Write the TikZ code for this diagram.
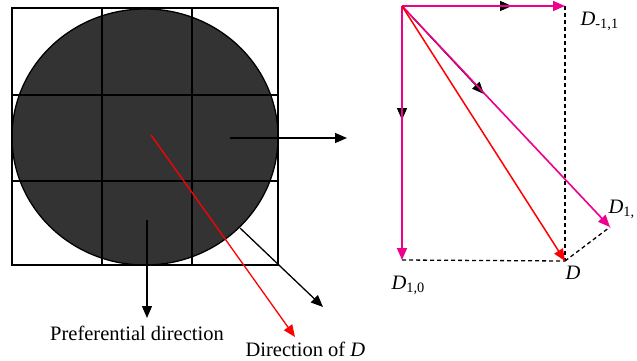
\documentclass[tikz,border=0pt]{standalone}
\usepackage{fontspec}
\setmainfont{Liberation Serif}
\usetikzlibrary{arrows.meta, calc}

\tikzset{
  tip/.style={-{Triangle[length=12pt,width=10pt]}},
  lbl/.style={inner sep=0pt, font=\fontsize{20.5}{24}\selectfont},
  vec/.style={tip, magenta, line width=1.6pt},
  help/.style={dash pattern=on 4pt off 3pt, line width=1.3pt}
}

\begin{document}
\begin{tikzpicture}[x=1pt, y=-1pt, line width=1.3pt]
            \useasboundingbox (0,0) rectangle (637,361);

            % cell grid with the particle
            \fill[black!80, draw=black] (145,137) ellipse (133 and 128);
            \draw[line width=1.6pt] (12,8) rectangle (278,265);
            \draw[line width=1.6pt] (102,8) -- (102,265);
            \draw[line width=1.6pt] (192,8) -- (192,265);
            \draw[line width=1.6pt] (12,95) -- (278,95);
            \draw[line width=1.6pt] (12,181) -- (278,181);

            \coordinate (P1) at (230,138);
            \coordinate (Q1) at (347,138);
            \coordinate (P2) at (147,220);
            \coordinate (Q2) at (147,318);
            \coordinate (P3) at (240,228);
            \coordinate (Q3) at (323,307);
            \coordinate (C0) at (151,135);
            \coordinate (C1) at (295,337);

            \draw[tip] (P1) -- (Q1);
            \draw[tip] (P2) -- (Q2);
            \draw[tip] (P3) -- (Q3);
            \draw[tip, red] (C0) -- (C1);

            \node[lbl] (pref) at (137,333) {Preferential direction};
            \node[lbl, anchor=west] (dird) at (245,349) {Direction of \textit{D}};

            % vector decomposition
            \coordinate (O) at (402,6);
            \coordinate (E1) at (565,6);
            \coordinate (E2) at (402,260);
            \coordinate (E3) at (610,227);
            \coordinate (D) at (565,261);
            \coordinate (M1) at (512,6);
            \coordinate (M2) at (402,120);
            \coordinate (M3) at (484,94);

            \draw[help] (E1) -- (D);
            \draw[help] (E2) -- (D);
            \draw[help] (D) -- (E3);

            \draw[tip] (O) -- (M1);
            \draw[tip] (O) -- (M2);
            \draw[tip] (O) -- (M3);

            \draw[vec] (O) -- (E1);
            \draw[vec] (O) -- (E2);
            \draw[vec] (O) -- (E3);
            \draw[tip, red, line width=1.5pt] (O) -- (D);

            \node[lbl, anchor=west] (dm) at (580,21) {\textit{D}\textsubscript{-1,1}};
            \node[lbl, anchor=west] (d10) at (391,285) {\textit{D}\textsubscript{1,0}};
            \node[lbl, anchor=west] (dd) at (565,273) {\textit{D}};
            \node[lbl, anchor=west] (d1) at (608,209) {\textit{D}\textsubscript{1,}};
        \end{tikzpicture}
\end{document}
